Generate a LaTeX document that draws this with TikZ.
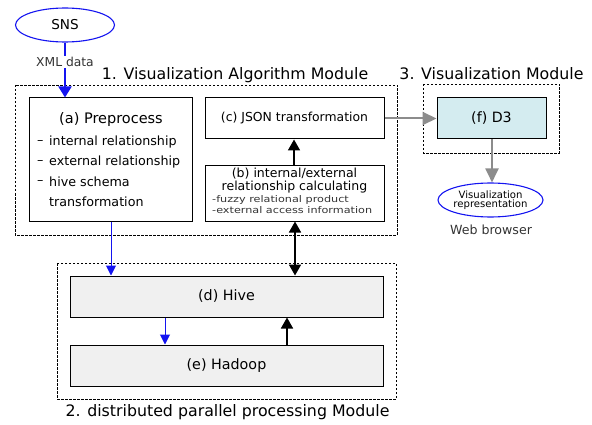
\documentclass[tikz,border=0pt]{standalone}
\usepackage{fontspec}
\setmainfont{DejaVu Sans}
\newfontfamily\widefont[FakeStretch=1.22]{DejaVu Sans}
\usetikzlibrary{arrows.meta,shapes.geometric}
\definecolor{myblue}{RGB}{20,20,240}
\definecolor{d3fill}{RGB}{212,236,240}
\definecolor{boxgray}{RGB}{240,240,240}
\definecolor{arrgray}{RGB}{140,140,140}
\newcommand{\fs}[1]{\fontsize{#1}{#1}\selectfont}
\tikzset{
  box/.style={draw=black, line width=1pt, inner sep=0pt},
  modbox/.style={draw=black, line width=0.6pt, dash pattern=on 2.5pt off 1.5pt},
  ell/.style={ellipse, draw=myblue, line width=1.1pt, inner sep=0pt},
  txt/.style={inner sep=0pt},
  bluethick/.style={draw=myblue, line width=2pt, -{Triangle[length=11pt,width=13pt]}},
  bluethin/.style={draw=myblue, line width=1pt, -{Triangle[length=10pt,width=10pt]}},
  blackarr/.style={draw=black, line width=1.8pt, -{Triangle[length=11pt,width=12pt]}},
  blackdbl/.style={draw=black, line width=1.8pt, {Triangle[length=11pt,width=12pt]}-{Triangle[length=11pt,width=12pt]}},
  grayarr/.style={draw=arrgray, line width=2pt, -{Triangle[length=14pt,width=13pt]}},
  title/.style={font=\fs{15.8}, inner sep=0pt},
}
\begin{document}
\begin{tikzpicture}[x=1pt,y=-1pt]
\useasboundingbox (0,0) rectangle (592,425);
% module boxes
\draw[modbox] (15,85) rectangle (397,235);
\draw[modbox] (423,84) rectangle (559,153);
\draw[modbox] (57,263) rectangle (396,399);
\node[title, anchor=base] (t1) at (235,80) {1. Visualization Algorithm Module};
\node[title, anchor=base] (t3) at (491.5,80) {3. Visualization Module};
\node[title, anchor=base] (t2) at (227.5,416) {2. distributed parallel processing Module};
% SNS
\node[ell, minimum width=99pt, minimum height=34pt, font=\fs{13.6}] (sns) at (65,25) {SNS};
% preprocess
\node[box, minimum width=163pt, minimum height=123pt] (pre) at (110.5,159.5) {};
\node[txt, anchor=base, font=\fs{14.5}] (pret) at (111,124) {(a) Preprocess};
\node[txt, anchor=base west, font=\fs{12.7}] (d1) at (37,145) {--};
\node[txt, anchor=base west, font=\fs{12.7}] (l1) at (49,146) {internal relationship};
\node[txt, anchor=base west, font=\fs{12.7}] (d2) at (37,165) {--};
\node[txt, anchor=base west, font=\fs{12.7}] (l2) at (49,166) {external relationship};
\node[txt, anchor=base west, font=\fs{12.7}] (d3d) at (37,185) {--};
\node[txt, anchor=base west, font=\fs{12.7}] (l3) at (49,186) {hive schema};
\node[txt, anchor=base west, font=\fs{12.7}] (l4) at (49,206) {transformation};
% JSON
\node[box, minimum width=179pt, minimum height=41pt, font=\fs{12.4}] (json) at (294.5,118.5) {(c) JSON transformation};
% (b)
\node[box, minimum width=179pt, minimum height=55pt] (calc) at (294.5,193.5) {};
\node[txt, anchor=base, font=\fs{12.5}] (c1) at (294.5,178) {(b) internal/external};
\node[txt, anchor=base, font=\fs{12.5}] (c2) at (294.5,190.5) {relationship calculating};
\node[txt, anchor=base west, font=\widefont\fs{9.2}, text=black!80] (c3) at (212,203) {-fuzzy relational product};
\node[txt, anchor=base west, font=\widefont\fs{9.2}, text=black!80] (c4) at (212,213.5) {-external access information};
% D3
\node[box, fill=d3fill, minimum width=109pt, minimum height=41pt, font=\fs{14.2}] (d3) at (491.5,118.5) {(f) D3};
\node[ell, minimum width=105pt, minimum height=34pt, align=center, font=\fs{10.1}] (vis) at (490.5,200) {Visualization\\[-1.5pt]representation};
\node[txt, anchor=base, font=\fs{12.6}, text=black!80] (web) at (491,234) {Web browser};
% Hive, Hadoop
\node[box, fill=boxgray, minimum width=313pt, minimum height=41pt, font=\fs{14.3}] (hive) at (226.5,296.5) {(d) Hive};
\node[box, fill=boxgray, minimum width=313pt, minimum height=41pt, font=\fs{14.3}] (hadoop) at (226.5,365.5) {(e) Hadoop};
% connectors
\draw[bluethick] (sns.south) -- node[fill=white, inner sep=1pt, font=\fs{12.3}, text=black!80, pos=0.35] (xml) {XML data} (pre.north -| sns.south);
\draw[bluethin] (pre.south -| 111,0) -- (hive.north -| 111,0);
\draw[bluethin] (hive.south -| 165,0) -- (hadoop.north -| 165,0);
\draw[blackarr] (hadoop.north -| 287,0) -- (hive.south -| 287,0);
\draw[blackdbl] (calc.south -| 295,0) -- (hive.north -| 295,0);
\draw[blackarr] (calc.north -| 294,0) -- (json.south -| 294,0);
\draw[grayarr] (json.east) -- (d3.west);
\draw[grayarr] (d3.south -| 492,0) -- (vis.north -| 492,0);
\end{tikzpicture}
\end{document}
